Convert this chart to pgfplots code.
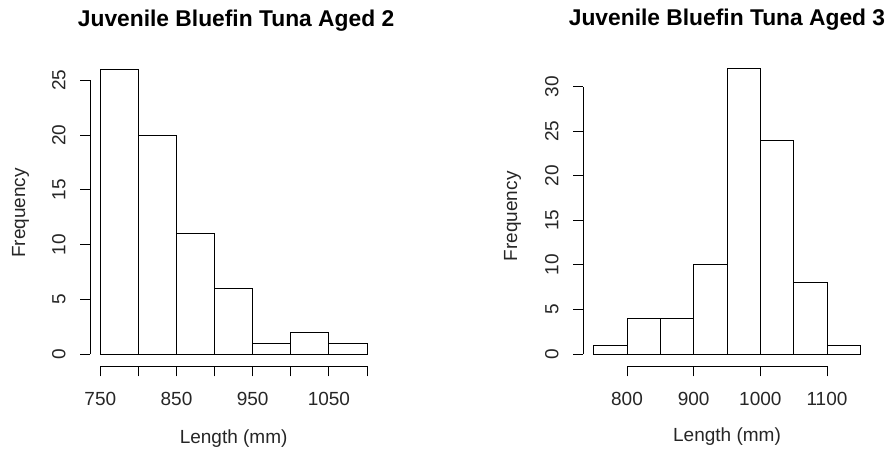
\documentclass[border=0pt]{standalone}
\usepackage{fontspec}
\setmainfont{Liberation Sans}
\usepackage{pgfplots}
\pgfplotsset{compat=1.18}

\pgfplotsset{
  rhist/.style={
    scale only axis,
    axis lines=left,
    axis line style={-, black, line width=1pt},
    enlargelimits=false,
    clip=false,
    tick align=outside,
    major tick length=10pt,
    tick style={black, line width=1pt},
    axis x line shift=12.3pt,
    every tick label/.append style={font=\fontsize{19}{21}\selectfont, text=black!85},
    /pgf/number format/assume math mode=true,
    /pgf/number format/1000 sep={},
    xticklabel style={yshift=-12pt},
    yticklabel style={rotate=90, anchor=south, yshift=11pt},
    title style={anchor=base, font=\bfseries\fontsize{22.8}{25}\selectfont},
    label style={font=\fontsize{19}{21}\selectfont, text=black!85},
    xlabel style={at={(axis description cs:0.5,-0.326)}, anchor=base},
    ylabel style={anchor=base, rotate=0},
  },
}

\begin{document}
\begin{tikzpicture}[x=1pt,y=1pt]
\useasboundingbox (0,0) rectangle (894,453);

% left panel: aged 2
\begin{axis}[rhist,
  at={(100.3pt,99pt)}, anchor=south west,
  width=266.7pt, height=273.7pt,
  xmin=750, xmax=1100, ymin=0, ymax=25,
  axis y line shift=10.3pt,
  xtick={750,800,...,1100},
  xticklabels={750,,850,,950,,1050,},
  ytick={0,5,...,25},
  title={Juvenile Bluefin Tuna Aged 2},
  title style={at={(axis description cs:0.509,1.176)}},
  xlabel={Length (mm)},
  ylabel={Frequency},
  ylabel style={at={(axis description cs:-0.282,0.515)}},
]
\addplot[ybar interval, fill=white, draw=black, line width=1pt] coordinates {
  (750,26) (800,20) (850,11) (900,6) (950,1) (1000,2) (1050,1) (1100,1)
};
\end{axis}

% right panel: aged 3
\begin{axis}[rhist,
  at={(627pt,99pt)}, anchor=south west,
  width=200pt, height=267.3pt,
  xmin=800, xmax=1100, ymin=0, ymax=30,
  axis y line shift=44pt,
  xtick={800,900,1000,1100},
  ytick={0,5,...,30},
  title={Juvenile Bluefin Tuna Aged 3},
  title style={at={(axis description cs:0.5,1.205)}},
  xlabel={Length (mm)},
  ylabel={Frequency},
  ylabel style={at={(axis description cs:-0.55,0.515)}},
]
\addplot[ybar interval, fill=white, draw=black, line width=1pt] coordinates {
  (750,1) (800,4) (850,4) (900,10) (950,32) (1000,24) (1050,8) (1100,1) (1150,1)
};
\end{axis}
\end{tikzpicture}
\end{document}
